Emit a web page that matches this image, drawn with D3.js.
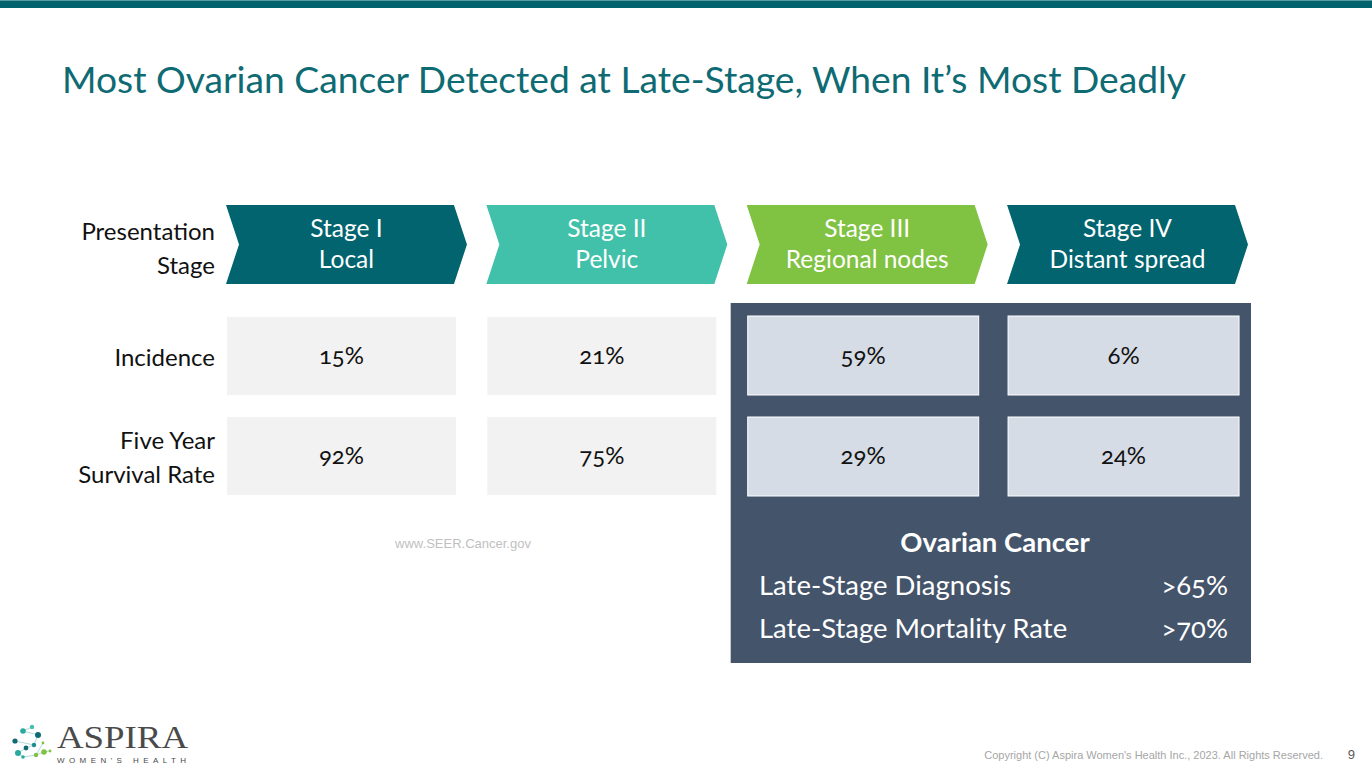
<!DOCTYPE html>
<html><head><meta charset="utf-8">
<script src="https://cdn.jsdelivr.net/npm/d3@7"></script>
<style>
html,body{margin:0;padding:0;background:#fff;}
svg{display:block;}
text{font-family:Lato,"Open Sans",sans-serif;}
</style></head>
<body>
<svg id="c" width="1372" height="773"></svg>
<script>
const stages = ["Stage I","Stage II","Stage III","Stage IV"];
const stageSub = ["Local","Pelvic","Regional nodes","Distant spread"];
const stageColors = ["#01646f","#41c1a9","#80c242","#01646f"];
const incidence = [15,21,59,6];
const survival = [92,75,29,24];
const rowKeys = ["Incidence","Survival"];
const rowLabels = [["Presentation","Stage"],["Incidence"],["Five Year","Survival Rate"]];
const lateStages = ["Stage III","Stage IV"];
const summaryTitle = "Ovarian Cancer";
const summaryLabels = ["Late-Stage Diagnosis","Late-Stage Mortality Rate"];
const summaryValues = [">65%",">70%"];
const title = "Most Ovarian Cancer Detected at Late-Stage, When It\u2019s Most Deadly";
const source = "www.SEER.Cancer.gov";
const copyright = "Copyright (C) Aspira Women's Health Inc., 2023. All Rights Reserved.";
const pageNum = "9";

const svg = d3.select("#c");

// top bar
svg.append("rect").attr("x",0).attr("y",0).attr("width",1372).attr("height",8).attr("fill","#02636f");
svg.append("rect").attr("x",0).attr("y",0).attr("width",1372).attr("height",1).attr("fill","#5a9aa2");

// title
svg.append("text").attr("x",62).attr("y",93)
  .attr("font-size",37).attr("fill","#0e6b73")
  .attr("textLength",1124).attr("lengthAdjust","spacingAndGlyphs")
  .text(title);

// scales
const x = d3.scaleBand().domain(stages).range([226,1248]).paddingInner(0.0745).paddingOuter(0);
const y = d3.scaleBand().domain(rowKeys).range([317,495]).paddingInner(0.22).paddingOuter(0);
const hdrTop = 205, hdrBot = 284, notch = 13;

// dark panel
const panelX0 = x("Stage III") - 16, panelX1 = x("Stage IV") + x.bandwidth() + 3;
svg.append("rect").attr("x",panelX0).attr("y",303).attr("width",panelX1-panelX0).attr("height",360).attr("fill","#44546a");

// chevrons
const mid = (hdrTop+hdrBot)/2;
const chev = svg.append("g");
stages.forEach((s,i)=>{
  const x0 = x(s), w = x.bandwidth();
  const pts = [[x0,hdrTop],[x0+w-notch,hdrTop],[x0+w,mid],[x0+w-notch,hdrBot],[x0,hdrBot],[x0+notch,mid]];
  chev.append("path").attr("d",d3.line()(pts)+"Z").attr("fill",stageColors[i]);
  const cx = x0 + w/2;
  chev.append("text").attr("x",cx).attr("y",237).attr("text-anchor","middle")
    .attr("font-size",24.5).attr("fill","#fff").text(s);
  chev.append("text").attr("x",cx).attr("y",268).attr("text-anchor","middle")
    .attr("font-size",24.5).attr("fill","#fff").text(stageSub[i]);
});

// cells
const cellW = 229;
const vals = {Incidence:incidence, Survival:survival};
rowKeys.forEach(r=>{
  stages.forEach((s,i)=>{
    const late = lateStages.includes(s);
    const x0 = x(s) + 1;
    const w = late ? 231 : cellW;
    const y0 = y(r) - (late && r==="Incidence" ? 1 : 0);
    const h = y.bandwidth() + (late ? 1 : 0);
    svg.append("rect").attr("x",x0).attr("y",y0).attr("width",w).attr("height",h)
      .attr("fill", late ? "#d6dce5" : "#f2f2f2")
      .attr("stroke", late ? "#fff" : "none").attr("stroke-width",1);
    svg.append("text").attr("x",x0 + w/2).attr("y",y(r)+y.bandwidth()/2+8)
      .attr("text-anchor","middle").attr("font-size",24).attr("fill","#111")
      .style("font-variant-numeric","oldstyle-nums")
      .text(vals[r][i] + "%");
  });
});

// row labels
const labelX = 215;
const lbl = svg.append("g").attr("font-size",24).attr("fill","#111").attr("text-anchor","end");
lbl.append("text").attr("x",labelX).attr("y",240).text(rowLabels[0][0]);
lbl.append("text").attr("x",labelX).attr("y",274).text(rowLabels[0][1]);
lbl.append("text").attr("x",labelX).attr("y",366).text(rowLabels[1][0]);
lbl.append("text").attr("x",labelX).attr("y",449).text(rowLabels[2][0]);
lbl.append("text").attr("x",labelX).attr("y",483).text(rowLabels[2][1]);

// source
svg.append("text").attr("x",463).attr("y",548).attr("text-anchor","middle")
  .attr("font-size",13).attr("fill","#bfbfbf")
  .style("font-family","'Liberation Sans',Arial,sans-serif").text(source);

// summary
svg.append("text").attr("x",995).attr("y",552).attr("text-anchor","middle")
  .attr("font-size",27.5).attr("font-weight","bold").attr("fill","#fff").text(summaryTitle);
summaryLabels.forEach((t,i)=>{
  const yy = 595 + i*43;
  svg.append("text").attr("x",759).attr("y",yy).attr("font-size",27.5).attr("fill","#fff").text(t);
  svg.append("text").attr("x",1228).attr("y",yy).attr("text-anchor","end").attr("font-size",27.5).attr("fill","#fff")
    .style("font-variant-numeric","oldstyle-nums").text(summaryValues[i]);
});

// footer
svg.append("text").attr("x",1323).attr("y",759).attr("text-anchor","end")
  .style("font-family","'Liberation Sans',Arial,sans-serif").attr("font-size",11).attr("fill","#a6a6a6").text(copyright);
svg.append("text").attr("x",1355).attr("y",759).attr("text-anchor","end")
  .style("font-family","'Liberation Sans',Arial,sans-serif").attr("font-size",13).attr("fill","#595959").text(pageNum);

// logo
const logo = svg.append("g");
const dots = [[32,727,2.2,"#41c1a9"],[23,731,2.8,"#2aa9a0"],[38,735,3,"#0f6a73"],[15,741,2.6,"#0f6a73"],
  [34,745,2.2,"#1a8d8f"],[43,743,1.4,"#80c242"],[26,748,2.4,"#0f6a73"],[18,753,3,"#2aa9a0"],
  [36,755,2.2,"#80c242"],[44,752,2.8,"#80c242"],[50,751,1.4,"#80c242"],[23,757,1.8,"#2aa9a0"]];
const links = [[0,1],[1,2],[2,4],[3,4],[4,6],[5,8],[6,7],[8,9],[9,10],[7,11],[8,11]];
links.forEach(([a,b])=>logo.append("line").attr("x1",dots[a][0]).attr("y1",dots[a][1])
  .attr("x2",dots[b][0]).attr("y2",dots[b][1]).attr("stroke","#8fc9c6").attr("stroke-width",0.7));
dots.forEach(d=>logo.append("circle").attr("cx",d[0]).attr("cy",d[1]).attr("r",d[2]).attr("fill",d[3]));
logo.append("text").attr("x",57).attr("y",748)
  .style("font-family","'Liberation Serif','DejaVu Serif',serif").attr("font-size",31).attr("fill","#4a4a4a")
  .attr("textLength",131).attr("lengthAdjust","spacingAndGlyphs").text("ASPIRA");
logo.append("text").attr("x",57).attr("y",763)
  .style("font-family","'Liberation Sans',Arial,sans-serif").attr("font-size",8).attr("fill","#4a4a4a")
  .attr("textLength",129).attr("lengthAdjust","spacing").text("WOMEN'S HEALTH");
</script>
</body></html>
